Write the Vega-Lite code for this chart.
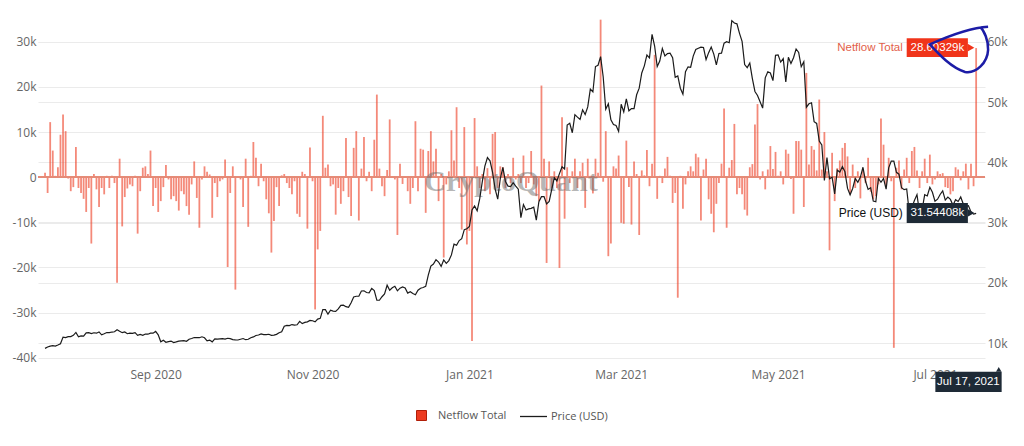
{
"$schema":"https://vega.github.io/schema/vega-lite/v6.json",
"width":947,"height":347,
"autosize":{"type":"none"},
"padding":{"left":38,"top":15,"right":39,"bottom":84},
"background":"#ffffff",
"config":{"view":{"stroke":null},"font":"Open Sans","axis":{"labelFont":"Open Sans","labelFontSize":12,"labelColor":"#666666","gridColor":"#ebebeb","gridWidth":1,"domain":false,"ticks":false,"tickSize":0,"title":null}},
"datasets":{"flow":[
{"d":"2020-07-20","n":1.0,"p":9.16},{"d":"2020-07-21","n":-3.5,"p":9.39},{"d":"2020-07-22","n":12.2,"p":9.54},{"d":"2020-07-23","n":5.9,"p":9.61},{"d":"2020-07-24","n":0.3,"p":9.55},{"d":"2020-07-25","n":2.2,"p":9.71},{"d":"2020-07-26","n":9.4,"p":9.93},{"d":"2020-07-27","n":13.9,"p":11.03},{"d":"2020-07-28","n":10.2,"p":10.94},{"d":"2020-07-29","n":-0.3,"p":11.10},{"d":"2020-07-30","n":-3.1,"p":11.11},{"d":"2020-07-31","n":-2.2,"p":11.32},
{"d":"2020-08-01","n":6.7,"p":11.80},{"d":"2020-08-02","n":-2.4,"p":11.07},{"d":"2020-08-03","n":-3.5,"p":11.23},{"d":"2020-08-04","n":-4.8,"p":11.19},{"d":"2020-08-05","n":-7.7,"p":11.74},{"d":"2020-08-06","n":-2.4,"p":11.76},{"d":"2020-08-07","n":-14.7,"p":11.60},{"d":"2020-08-08","n":0.7,"p":11.75},{"d":"2020-08-09","n":-2.7,"p":11.68},{"d":"2020-08-10","n":-6.6,"p":11.88},{"d":"2020-08-11","n":-2.4,"p":11.41},{"d":"2020-08-12","n":-3.8,"p":11.58},{"d":"2020-08-13","n":0.3,"p":11.78},{"d":"2020-08-14","n":-2.4,"p":11.77},{"d":"2020-08-15","n":0.3,"p":11.87},{"d":"2020-08-16","n":-1.3,"p":11.91},{"d":"2020-08-17","n":-23.4,"p":12.25},{"d":"2020-08-18","n":4.1,"p":11.99},{"d":"2020-08-19","n":-10.9,"p":11.76},{"d":"2020-08-20","n":-4.4,"p":11.88},{"d":"2020-08-21","n":-2.5,"p":11.59},{"d":"2020-08-22","n":-1.6,"p":11.68},{"d":"2020-08-23","n":-2.0,"p":11.66},{"d":"2020-08-24","n":0.3,"p":11.77},{"d":"2020-08-25","n":-12.5,"p":11.32},{"d":"2020-08-26","n":-3.1,"p":11.46},{"d":"2020-08-27","n":2.1,"p":11.32},{"d":"2020-08-28","n":2.4,"p":11.54},{"d":"2020-08-29","n":0.7,"p":11.51},{"d":"2020-08-30","n":5.9,"p":11.68},{"d":"2020-08-31","n":-6.4,"p":11.68},
{"d":"2020-09-01","n":-2.4,"p":11.97},{"d":"2020-09-02","n":-7.7,"p":11.41},{"d":"2020-09-03","n":-5.3,"p":10.25},{"d":"2020-09-04","n":-2.2,"p":10.51},{"d":"2020-09-05","n":2.7,"p":10.17},{"d":"2020-09-06","n":-0.5,"p":10.28},{"d":"2020-09-07","n":-4.9,"p":10.37},{"d":"2020-09-08","n":-4.2,"p":10.13},{"d":"2020-09-09","n":-5.3,"p":10.24},{"d":"2020-09-10","n":-7.4,"p":10.36},{"d":"2020-09-11","n":-3.1,"p":10.40},{"d":"2020-09-12","n":-3.8,"p":10.44},{"d":"2020-09-13","n":-6.4,"p":10.33},{"d":"2020-09-14","n":-8.3,"p":10.68},{"d":"2020-09-15","n":-1.6,"p":10.79},{"d":"2020-09-16","n":3.5,"p":10.96},{"d":"2020-09-17","n":-4.6,"p":10.95},{"d":"2020-09-18","n":-11.2,"p":10.93},{"d":"2020-09-19","n":-0.5,"p":11.08},{"d":"2020-09-20","n":2.4,"p":10.92},{"d":"2020-09-21","n":1.2,"p":10.42},{"d":"2020-09-22","n":0.6,"p":10.54},{"d":"2020-09-23","n":-9.0,"p":10.24},{"d":"2020-09-24","n":-1.3,"p":10.74},{"d":"2020-09-25","n":-4.4,"p":10.69},{"d":"2020-09-26","n":-0.9,"p":10.73},{"d":"2020-09-27","n":-0.5,"p":10.77},{"d":"2020-09-28","n":3.9,"p":10.71},{"d":"2020-09-29","n":-19.9,"p":10.84},{"d":"2020-09-30","n":-3.5,"p":10.78},
{"d":"2020-10-01","n":2.4,"p":10.62},{"d":"2020-10-02","n":-24.9,"p":10.57},{"d":"2020-10-03","n":0.2,"p":10.55},{"d":"2020-10-04","n":-0.5,"p":10.67},{"d":"2020-10-05","n":-6.6,"p":10.79},{"d":"2020-10-06","n":4.1,"p":10.60},{"d":"2020-10-07","n":-11.0,"p":10.67},{"d":"2020-10-08","n":0.3,"p":10.92},{"d":"2020-10-09","n":7.8,"p":11.06},{"d":"2020-10-10","n":4.3,"p":11.30},{"d":"2020-10-11","n":-2.0,"p":11.38},{"d":"2020-10-12","n":3.0,"p":11.56},{"d":"2020-10-13","n":-0.9,"p":11.43},{"d":"2020-10-14","n":-4.9,"p":11.43},{"d":"2020-10-15","n":-8.0,"p":11.50},{"d":"2020-10-16","n":-16.7,"p":11.32},{"d":"2020-10-17","n":-9.7,"p":11.36},{"d":"2020-10-18","n":-2.2,"p":11.48},{"d":"2020-10-19","n":-6.4,"p":11.74},{"d":"2020-10-20","n":0.4,"p":11.92},{"d":"2020-10-21","n":0.7,"p":12.82},{"d":"2020-10-22","n":-1.3,"p":12.97},{"d":"2020-10-23","n":-2.4,"p":12.93},{"d":"2020-10-24","n":-3.8,"p":13.11},{"d":"2020-10-25","n":-0.9,"p":13.03},{"d":"2020-10-26","n":-8.1,"p":13.07},{"d":"2020-10-27","n":-8.8,"p":13.64},{"d":"2020-10-28","n":1.2,"p":13.27},{"d":"2020-10-29","n":0.7,"p":13.46},{"d":"2020-10-30","n":-11.4,"p":13.56},{"d":"2020-10-31","n":6.6,"p":13.80},
{"d":"2020-11-01","n":-0.9,"p":13.74},{"d":"2020-11-02","n":-29.3,"p":13.55},{"d":"2020-11-03","n":-16.0,"p":14.02},{"d":"2020-11-04","n":-11.9,"p":14.14},{"d":"2020-11-05","n":13.6,"p":15.59},{"d":"2020-11-06","n":2.1,"p":15.58},{"d":"2020-11-07","n":2.8,"p":14.83},{"d":"2020-11-08","n":-2.0,"p":15.48},{"d":"2020-11-09","n":-1.6,"p":15.33},{"d":"2020-11-10","n":-8.3,"p":15.30},{"d":"2020-11-11","n":-2.4,"p":15.70},{"d":"2020-11-12","n":-5.9,"p":16.28},{"d":"2020-11-13","n":-3.1,"p":16.32},{"d":"2020-11-14","n":8.7,"p":16.07},{"d":"2020-11-15","n":-4.4,"p":15.96},{"d":"2020-11-16","n":-8.6,"p":16.73},{"d":"2020-11-17","n":6.5,"p":17.68},{"d":"2020-11-18","n":10.2,"p":17.80},{"d":"2020-11-19","n":-9.6,"p":17.82},{"d":"2020-11-20","n":1.9,"p":18.68},{"d":"2020-11-21","n":8.9,"p":18.71},{"d":"2020-11-22","n":-0.9,"p":18.42},{"d":"2020-11-23","n":1.2,"p":18.37},{"d":"2020-11-24","n":-3.1,"p":19.11},{"d":"2020-11-25","n":8.3,"p":18.73},{"d":"2020-11-26","n":18.3,"p":17.15},{"d":"2020-11-27","n":1.9,"p":17.14},{"d":"2020-11-28","n":-2.0,"p":17.72},{"d":"2020-11-29","n":-4.2,"p":18.18},{"d":"2020-11-30","n":1.6,"p":19.63},
{"d":"2020-12-01","n":12.8,"p":18.80},{"d":"2020-12-02","n":0.2,"p":19.20},{"d":"2020-12-03","n":-0.5,"p":19.45},{"d":"2020-12-04","n":-12.8,"p":18.70},{"d":"2020-12-05","n":3.0,"p":19.15},{"d":"2020-12-06","n":-1.5,"p":19.36},{"d":"2020-12-07","n":0.2,"p":19.17},{"d":"2020-12-08","n":-3.1,"p":18.32},{"d":"2020-12-09","n":-5.9,"p":18.55},{"d":"2020-12-10","n":-2.4,"p":18.26},{"d":"2020-12-11","n":12.4,"p":18.06},{"d":"2020-12-12","n":-3.1,"p":18.80},{"d":"2020-12-13","n":6.3,"p":19.14},{"d":"2020-12-14","n":6.1,"p":19.25},{"d":"2020-12-15","n":-7.9,"p":19.44},{"d":"2020-12-16","n":5.8,"p":21.31},{"d":"2020-12-17","n":10.2,"p":22.81},{"d":"2020-12-18","n":3.5,"p":23.14},{"d":"2020-12-19","n":6.3,"p":23.87},{"d":"2020-12-20","n":-5.3,"p":23.48},{"d":"2020-12-21","n":0.7,"p":22.75},{"d":"2020-12-22","n":-17.8,"p":23.82},{"d":"2020-12-23","n":-1.6,"p":23.26},{"d":"2020-12-24","n":1.3,"p":23.72},{"d":"2020-12-25","n":10.4,"p":24.66},{"d":"2020-12-26","n":3.7,"p":26.44},{"d":"2020-12-27","n":15.5,"p":26.25},{"d":"2020-12-28","n":-2.4,"p":27.04},{"d":"2020-12-29","n":-11.6,"p":27.36},{"d":"2020-12-30","n":11.1,"p":28.84},{"d":"2020-12-31","n":-14.9,"p":29.00},
{"d":"2021-01-01","n":-11.9,"p":29.37},{"d":"2021-01-02","n":-36.3,"p":32.13},{"d":"2021-01-03","n":13.1,"p":32.78},{"d":"2021-01-04","n":2.4,"p":31.97},{"d":"2021-01-05","n":-2.4,"p":33.99},{"d":"2021-01-06","n":0.7,"p":36.82},{"d":"2021-01-07","n":-3.1,"p":39.37},{"d":"2021-01-08","n":2.0,"p":40.80},{"d":"2021-01-09","n":-3.8,"p":40.25},{"d":"2021-01-10","n":9.6,"p":38.36},{"d":"2021-01-11","n":10.0,"p":35.57},{"d":"2021-01-12","n":-2.4,"p":33.92},{"d":"2021-01-13","n":2.4,"p":37.32},{"d":"2021-01-14","n":2.2,"p":39.19},{"d":"2021-01-15","n":-2.4,"p":36.83},{"d":"2021-01-16","n":0.7,"p":36.07},{"d":"2021-01-17","n":-1.3,"p":35.99},{"d":"2021-01-18","n":4.3,"p":36.63},{"d":"2021-01-19","n":-0.5,"p":36.07},{"d":"2021-01-20","n":0.7,"p":35.55},{"d":"2021-01-21","n":-1.3,"p":30.83},{"d":"2021-01-22","n":4.8,"p":33.00},{"d":"2021-01-23","n":-2.4,"p":32.10},{"d":"2021-01-24","n":-1.3,"p":32.29},{"d":"2021-01-25","n":5.8,"p":32.37},{"d":"2021-01-26","n":-1.6,"p":32.57},{"d":"2021-01-27","n":-4.2,"p":30.43},{"d":"2021-01-28","n":-5.3,"p":33.47},{"d":"2021-01-29","n":20.3,"p":34.32},{"d":"2021-01-30","n":4.1,"p":34.32},{"d":"2021-01-31","n":-19.0,"p":33.11},
{"d":"2021-02-01","n":3.5,"p":33.54},{"d":"2021-02-02","n":-2.4,"p":35.51},{"d":"2021-02-03","n":1.3,"p":37.47},{"d":"2021-02-04","n":-2.4,"p":36.93},{"d":"2021-02-05","n":-20.1,"p":38.14},{"d":"2021-02-06","n":13.3,"p":39.27},{"d":"2021-02-07","n":-9.2,"p":38.90},{"d":"2021-02-08","n":2.2,"p":46.20},{"d":"2021-02-09","n":-1.3,"p":46.48},{"d":"2021-02-10","n":1.3,"p":44.92},{"d":"2021-02-11","n":4.1,"p":47.91},{"d":"2021-02-12","n":-2.4,"p":47.50},{"d":"2021-02-13","n":1.3,"p":47.11},{"d":"2021-02-14","n":3.2,"p":48.72},{"d":"2021-02-15","n":-6.8,"p":47.94},{"d":"2021-02-16","n":4.1,"p":49.20},{"d":"2021-02-17","n":0.3,"p":52.15},{"d":"2021-02-18","n":-3.6,"p":51.68},{"d":"2021-02-19","n":4.1,"p":55.89},{"d":"2021-02-20","n":1.0,"p":56.10},{"d":"2021-02-21","n":34.9,"p":57.54},{"d":"2021-02-22","n":-1.0,"p":54.21},{"d":"2021-02-23","n":10.2,"p":48.82},{"d":"2021-02-24","n":-17.5,"p":49.71},{"d":"2021-02-25","n":-14.7,"p":47.05},{"d":"2021-02-26","n":2.4,"p":46.28},{"d":"2021-02-27","n":1.9,"p":46.11},{"d":"2021-02-28","n":4.8,"p":45.14},
{"d":"2021-03-01","n":-10.1,"p":49.63},{"d":"2021-03-02","n":-10.3,"p":48.38},{"d":"2021-03-03","n":8.1,"p":50.54},{"d":"2021-03-04","n":-2.2,"p":48.56},{"d":"2021-03-05","n":-10.5,"p":48.93},{"d":"2021-03-06","n":3.5,"p":48.91},{"d":"2021-03-07","n":0.7,"p":51.21},{"d":"2021-03-08","n":-12.8,"p":52.30},{"d":"2021-03-09","n":1.5,"p":54.82},{"d":"2021-03-10","n":0.4,"p":56.01},{"d":"2021-03-11","n":6.0,"p":57.81},{"d":"2021-03-12","n":-2.0,"p":57.33},{"d":"2021-03-13","n":3.0,"p":61.24},{"d":"2021-03-14","n":27.1,"p":59.30},{"d":"2021-03-15","n":-4.8,"p":55.89},{"d":"2021-03-16","n":0.3,"p":56.80},{"d":"2021-03-17","n":-1.3,"p":58.87},{"d":"2021-03-18","n":1.9,"p":57.65},{"d":"2021-03-19","n":4.5,"p":58.03},{"d":"2021-03-20","n":0.3,"p":58.10},{"d":"2021-03-21","n":-5.7,"p":57.35},{"d":"2021-03-22","n":-3.5,"p":54.11},{"d":"2021-03-23","n":-26.7,"p":54.34},{"d":"2021-03-24","n":0.3,"p":52.30},{"d":"2021-03-25","n":-7.0,"p":51.32},{"d":"2021-03-26","n":-1.6,"p":55.03},{"d":"2021-03-27","n":1.3,"p":55.85},{"d":"2021-03-28","n":2.4,"p":55.78},{"d":"2021-03-29","n":1.3,"p":57.63},{"d":"2021-03-30","n":5.2,"p":58.73},{"d":"2021-03-31","n":4.4,"p":58.92},
{"d":"2021-04-01","n":-9.6,"p":59.10},{"d":"2021-04-02","n":1.7,"p":59.05},{"d":"2021-04-03","n":4.1,"p":57.05},{"d":"2021-04-04","n":-4.9,"p":58.20},{"d":"2021-04-05","n":-8.1,"p":59.12},{"d":"2021-04-06","n":-12.2,"p":57.95},{"d":"2021-04-07","n":-5.9,"p":56.17},{"d":"2021-04-08","n":-1.3,"p":58.06},{"d":"2021-04-09","n":3.0,"p":58.11},{"d":"2021-04-10","n":15.2,"p":59.77},{"d":"2021-04-11","n":-11.2,"p":60.00},{"d":"2021-04-12","n":2.1,"p":59.84},{"d":"2021-04-13","n":3.8,"p":63.50},{"d":"2021-04-14","n":11.8,"p":63.11},{"d":"2021-04-15","n":-3.8,"p":62.98},{"d":"2021-04-16","n":-2.4,"p":61.40},{"d":"2021-04-17","n":-3.8,"p":60.06},{"d":"2021-04-18","n":-7.2,"p":56.22},{"d":"2021-04-19","n":-8.5,"p":55.72},{"d":"2021-04-20","n":2.2,"p":56.47},{"d":"2021-04-21","n":2.9,"p":53.90},{"d":"2021-04-22","n":11.7,"p":51.76},{"d":"2021-04-23","n":16.2,"p":51.09},{"d":"2021-04-24","n":-0.5,"p":50.05},{"d":"2021-04-25","n":1.3,"p":49.00},{"d":"2021-04-26","n":-2.7,"p":54.02},{"d":"2021-04-27","n":1.7,"p":55.03},{"d":"2021-04-28","n":6.9,"p":54.82},{"d":"2021-04-29","n":1.8,"p":53.56},{"d":"2021-04-30","n":5.6,"p":57.75},
{"d":"2021-05-01","n":0.3,"p":57.83},{"d":"2021-05-02","n":1.3,"p":56.63},{"d":"2021-05-03","n":-1.6,"p":57.21},{"d":"2021-05-04","n":6.1,"p":53.33},{"d":"2021-05-05","n":5.2,"p":57.42},{"d":"2021-05-06","n":-0.4,"p":56.40},{"d":"2021-05-07","n":-8.1,"p":57.36},{"d":"2021-05-08","n":8.0,"p":58.80},{"d":"2021-05-09","n":8.0,"p":58.23},{"d":"2021-05-10","n":6.1,"p":55.86},{"d":"2021-05-11","n":-6.6,"p":56.70},{"d":"2021-05-12","n":23.1,"p":49.15},{"d":"2021-05-13","n":2.8,"p":49.72},{"d":"2021-05-14","n":6.9,"p":49.88},{"d":"2021-05-15","n":6.1,"p":46.76},{"d":"2021-05-16","n":1.5,"p":46.46},{"d":"2021-05-17","n":17.2,"p":43.54},{"d":"2021-05-18","n":1.7,"p":42.91},{"d":"2021-05-19","n":10.0,"p":37.00},{"d":"2021-05-20","n":1.3,"p":40.78},{"d":"2021-05-21","n":-16.2,"p":37.30},{"d":"2021-05-22","n":5.4,"p":37.54},{"d":"2021-05-23","n":-5.3,"p":34.77},{"d":"2021-05-24","n":2.0,"p":38.71},{"d":"2021-05-25","n":3.7,"p":38.40},{"d":"2021-05-26","n":6.5,"p":39.29},{"d":"2021-05-27","n":7.6,"p":38.44},{"d":"2021-05-28","n":4.6,"p":35.69},{"d":"2021-05-29","n":-3.8,"p":34.62},{"d":"2021-05-30","n":2.8,"p":35.68},{"d":"2021-05-31","n":-2.4,"p":37.33},
{"d":"2021-06-01","n":1.3,"p":36.70},{"d":"2021-06-02","n":-4.7,"p":37.57},{"d":"2021-06-03","n":1.7,"p":39.19},{"d":"2021-06-04","n":-1.3,"p":36.87},{"d":"2021-06-05","n":4.3,"p":35.52},{"d":"2021-06-06","n":-3.2,"p":35.80},{"d":"2021-06-07","n":-4.9,"p":33.59},{"d":"2021-06-08","n":-4.2,"p":33.47},{"d":"2021-06-09","n":-1.6,"p":37.35},{"d":"2021-06-10","n":13.0,"p":36.70},{"d":"2021-06-11","n":7.2,"p":37.33},{"d":"2021-06-12","n":-2.0,"p":35.55},{"d":"2021-06-13","n":4.3,"p":39.10},{"d":"2021-06-14","n":-0.9,"p":40.22},{"d":"2021-06-15","n":-37.8,"p":40.22},{"d":"2021-06-16","n":2.1,"p":38.35},{"d":"2021-06-17","n":3.7,"p":38.05},{"d":"2021-06-18","n":-2.7,"p":35.79},{"d":"2021-06-19","n":1.7,"p":35.48},{"d":"2021-06-20","n":4.3,"p":35.60},{"d":"2021-06-21","n":-1.3,"p":31.68},{"d":"2021-06-22","n":5.8,"p":32.51},{"d":"2021-06-23","n":6.7,"p":33.69},{"d":"2021-06-24","n":1.5,"p":34.66},{"d":"2021-06-25","n":-2.4,"p":31.64},{"d":"2021-06-26","n":1.3,"p":32.16},{"d":"2021-06-27","n":4.1,"p":34.64},{"d":"2021-06-28","n":-1.3,"p":34.43},{"d":"2021-06-29","n":5.0,"p":35.87},{"d":"2021-06-30","n":-1.6,"p":35.04},
{"d":"2021-07-01","n":-0.5,"p":33.57},{"d":"2021-07-02","n":1.3,"p":33.90},{"d":"2021-07-03","n":0.7,"p":34.67},{"d":"2021-07-04","n":0.9,"p":35.29},{"d":"2021-07-05","n":-2.2,"p":33.75},{"d":"2021-07-06","n":-2.4,"p":34.24},{"d":"2021-07-07","n":-3.8,"p":33.86},{"d":"2021-07-08","n":-3.1,"p":32.88},{"d":"2021-07-09","n":2.2,"p":33.82},{"d":"2021-07-10","n":1.7,"p":33.52},{"d":"2021-07-11","n":-0.7,"p":34.26},{"d":"2021-07-12","n":1.3,"p":33.09},{"d":"2021-07-13","n":3.0,"p":32.73},{"d":"2021-07-14","n":-2.7,"p":32.82},{"d":"2021-07-15","n":3.0,"p":31.78},{"d":"2021-07-16","n":-2.0,"p":31.42},{"d":"2021-07-17","n":28.60329,"p":31.54408}
]},
"data":{"name":"flow"},
"layer":[
 {"layer":[
  {"mark":{"type":"bar","size":1.8,"opacity":0.6},
   "encoding":{
    "x":{"field":"d","type":"temporal","scale":{"type":"utc","nice":false,"domain":[{"year":2020,"month":7,"date":19,"hours":5,"utc":true},{"year":2021,"month":7,"date":18,"hours":12,"utc":true}]},
         "axis":{"title":null,"values":[{"year":2020,"month":9,"date":1,"utc":true},{"year":2020,"month":11,"date":1,"utc":true},{"year":2021,"month":1,"date":1,"utc":true},{"year":2021,"month":3,"date":1,"utc":true},{"year":2021,"month":5,"date":1,"utc":true},{"year":2021,"month":7,"date":1,"utc":true}],"format":"%b %Y","labelPadding":7,"grid":false,"zindex":0,"labelFlush":false,"labelOverlap":false,"domain":false,"ticks":false}},
    "y":{"field":"n","type":"quantitative","scale":{"domain":[-40.94,35.93],"nice":false,"zero":false},
         "axis":{"title":null,"orient":"left","values":[-40,-30,-20,-10,0,10,20,30],"labelExpr":"datum.value == 0 ? '0' : datum.value + 'k'","grid":true,"labelPadding":2,"domain":false,"ticks":false}},
    "y2":{"datum":0},
    "fill":{"datum":"Netflow Total","type":"nominal","scale":{"domain":["Netflow Total"],"range":["#ec3a20"]},
      "legend":{"orient":"none","legendX":378,"legendY":395,"title":null,"symbolType":"square","symbolSize":100,"symbolOpacity":1,"symbolStrokeColor":"#b01e08","symbolStrokeWidth":1,"labelFont":"Open Sans","labelFontSize":11,"labelColor":"#555555","labelOffset":11}}
   }},
  {"mark":{"type":"rule","color":"#e48a77","strokeWidth":1},
   "encoding":{"y":{"datum":0,"type":"quantitative","scale":{"domain":[-40.94,35.93],"nice":false,"zero":false}}}},
  {"data":{"values":[{"d":"2021-01-17T03:30:00Z","v":-1.06,"t":"CryptoQuant"}]},
   "mark":{"type":"text","font":"Liberation Serif","fontSize":30,"fontWeight":"bold","color":"#6f6f6f","opacity":0.5,"align":"center","baseline":"middle"},
   "encoding":{"x":{"field":"d","type":"temporal","scale":{"type":"utc","nice":false,"domain":[{"year":2020,"month":7,"date":19,"hours":5,"utc":true},{"year":2021,"month":7,"date":18,"hours":12,"utc":true}]}},
     "y":{"field":"v","type":"quantitative","scale":{"domain":[-40.94,35.93],"nice":false,"zero":false}},
     "text":{"field":"t"}}}
 ]},
 {"mark":{"type":"line","strokeWidth":1.2},
  "encoding":{
   "x":{"field":"d","type":"temporal","scale":{"type":"utc","nice":false,"domain":[{"year":2020,"month":7,"date":19,"hours":5,"utc":true},{"year":2021,"month":7,"date":18,"hours":12,"utc":true}]}},
   "y":{"field":"p","type":"quantitative","scale":{"domain":[6.9,64.44],"nice":false,"zero":false},
        "axis":{"title":null,"orient":"right","values":[10,20,30,40,50,60],"labelExpr":"datum.value + 'k'","grid":true,"labelPadding":2,"domain":false,"ticks":false}},
   "stroke":{"datum":"Price (USD)","type":"nominal","scale":{"domain":["Price (USD)"],"range":["#1b1b1b"]},
      "legend":{"orient":"none","legendX":481,"legendY":387,"title":null,"symbolType":"stroke","symbolSize":729,"symbolStrokeWidth":1.3,"symbolOpacity":1,"labelFont":"Open Sans","labelFontSize":11,"labelColor":"#555555","labelOffset":3}}}},
 {"layer":[
  {"data":{"values":[{"x1":"2021-06-20T00:00:00Z","x2":"2021-07-13T19:00:00Z","y1":26.6,"y2":30.8}]},
   "mark":{"type":"rect","color":"#f0341a"},
   "encoding":{"x":{"field":"x1","type":"temporal","scale":{"type":"utc","nice":false,"domain":[{"year":2020,"month":7,"date":19,"hours":5,"utc":true},{"year":2021,"month":7,"date":18,"hours":12,"utc":true}]}},"x2":{"field":"x2"},
     "y":{"field":"y1","type":"quantitative","scale":{"domain":[-40.94,35.93],"nice":false,"zero":false},"axis":null},"y2":{"field":"y2"}}},
  {"data":{"values":[{"x":"2021-07-15T00:00:00Z","y":28.7}]},
   "mark":{"type":"point","shape":"triangle-right","filled":true,"size":60,"color":"#f0341a","opacity":1},
   "encoding":{"x":{"field":"x","type":"temporal","scale":{"type":"utc","nice":false,"domain":[{"year":2020,"month":7,"date":19,"hours":5,"utc":true},{"year":2021,"month":7,"date":18,"hours":12,"utc":true}]}},
     "y":{"field":"y","type":"quantitative","scale":{"domain":[-40.94,35.93],"nice":false,"zero":false},"axis":null}}},
  {"data":{"values":[{"x":"2021-07-01T22:00:00Z","y":28.7,"t":"28.60329k"}]},
   "mark":{"type":"text","font":"Liberation Sans","fontSize":11.5,"color":"#ffffff","align":"center","baseline":"middle"},
   "encoding":{"x":{"field":"x","type":"temporal","scale":{"type":"utc","nice":false,"domain":[{"year":2020,"month":7,"date":19,"hours":5,"utc":true},{"year":2021,"month":7,"date":18,"hours":12,"utc":true}]}},
     "y":{"field":"y","type":"quantitative","scale":{"domain":[-40.94,35.93],"nice":false,"zero":false},"axis":null},"text":{"field":"t"}}},
  {"data":{"values":[{"x":"2021-06-18T12:00:00Z","y":28.7,"t":"Netflow Total"}]},
   "mark":{"type":"text","font":"Liberation Sans","fontSize":11.5,"color":"#e2604a","align":"right","baseline":"middle"},
   "encoding":{"x":{"field":"x","type":"temporal","scale":{"type":"utc","nice":false,"domain":[{"year":2020,"month":7,"date":19,"hours":5,"utc":true},{"year":2021,"month":7,"date":18,"hours":12,"utc":true}]}},
     "y":{"field":"y","type":"quantitative","scale":{"domain":[-40.94,35.93],"nice":false,"zero":false},"axis":null},"text":{"field":"t"}}},
  {"data":{"values":[{"x1":"2021-06-20T00:00:00Z","x2":"2021-07-13T19:00:00Z","y1":-10.15,"y2":-5.72}]},
   "mark":{"type":"rect","color":"#1e2a36"},
   "encoding":{"x":{"field":"x1","type":"temporal","scale":{"type":"utc","nice":false,"domain":[{"year":2020,"month":7,"date":19,"hours":5,"utc":true},{"year":2021,"month":7,"date":18,"hours":12,"utc":true}]}},"x2":{"field":"x2"},
     "y":{"field":"y1","type":"quantitative","scale":{"domain":[-40.94,35.93],"nice":false,"zero":false},"axis":null},"y2":{"field":"y2"}}},
  {"data":{"values":[{"x":"2021-07-15T00:00:00Z","y":-7.93}]},
   "mark":{"type":"point","shape":"triangle-right","filled":true,"size":60,"color":"#1e2a36","opacity":1},
   "encoding":{"x":{"field":"x","type":"temporal","scale":{"type":"utc","nice":false,"domain":[{"year":2020,"month":7,"date":19,"hours":5,"utc":true},{"year":2021,"month":7,"date":18,"hours":12,"utc":true}]}},
     "y":{"field":"y","type":"quantitative","scale":{"domain":[-40.94,35.93],"nice":false,"zero":false},"axis":null}}},
  {"data":{"values":[{"x":"2021-07-01T22:00:00Z","y":-7.93,"t":"31.54408k"}]},
   "mark":{"type":"text","font":"Liberation Sans","fontSize":11.5,"color":"#ffffff","align":"center","baseline":"middle"},
   "encoding":{"x":{"field":"x","type":"temporal","scale":{"type":"utc","nice":false,"domain":[{"year":2020,"month":7,"date":19,"hours":5,"utc":true},{"year":2021,"month":7,"date":18,"hours":12,"utc":true}]}},
     "y":{"field":"y","type":"quantitative","scale":{"domain":[-40.94,35.93],"nice":false,"zero":false},"axis":null},"text":{"field":"t"}}},
  {"data":{"values":[{"x":"2021-06-18T12:00:00Z","y":-7.93,"t":"Price (USD)"}]},
   "mark":{"type":"text","font":"Liberation Sans","fontSize":12,"color":"#111111","align":"right","baseline":"middle"},
   "encoding":{"x":{"field":"x","type":"temporal","scale":{"type":"utc","nice":false,"domain":[{"year":2020,"month":7,"date":19,"hours":5,"utc":true},{"year":2021,"month":7,"date":18,"hours":12,"utc":true}]}},
     "y":{"field":"y","type":"quantitative","scale":{"domain":[-40.94,35.93],"nice":false,"zero":false},"axis":null},"text":{"field":"t"}}},
  {"data":{"values":[{"x1":"2021-07-01T03:30:00Z","x2":"2021-07-26T22:00:00Z","y1":-47.6,"y2":-43.1}]},
   "mark":{"type":"rect","color":"#1e2a36"},
   "encoding":{"x":{"field":"x1","type":"temporal","scale":{"type":"utc","nice":false,"domain":[{"year":2020,"month":7,"date":19,"hours":5,"utc":true},{"year":2021,"month":7,"date":18,"hours":12,"utc":true}]}},"x2":{"field":"x2"},
     "y":{"field":"y1","type":"quantitative","scale":{"domain":[-40.94,35.93],"nice":false,"zero":false},"axis":null},"y2":{"field":"y2"}}},
  {"data":{"values":[{"x":"2021-07-25T19:00:00Z","y":-42.6}]},
   "mark":{"type":"point","shape":"triangle-up","filled":true,"size":30,"color":"#1e2a36","opacity":1},
   "encoding":{"x":{"field":"x","type":"temporal","scale":{"type":"utc","nice":false,"domain":[{"year":2020,"month":7,"date":19,"hours":5,"utc":true},{"year":2021,"month":7,"date":18,"hours":12,"utc":true}]}},
     "y":{"field":"y","type":"quantitative","scale":{"domain":[-40.94,35.93],"nice":false,"zero":false},"axis":null}}},
  {"data":{"values":[{"x":"2021-07-14T00:00:00Z","y":-45.37,"t":"Jul 17, 2021"}]},
   "mark":{"type":"text","font":"Liberation Sans","fontSize":11.5,"color":"#ffffff","align":"center","baseline":"middle"},
   "encoding":{"x":{"field":"x","type":"temporal","scale":{"type":"utc","nice":false,"domain":[{"year":2020,"month":7,"date":19,"hours":5,"utc":true},{"year":2021,"month":7,"date":18,"hours":12,"utc":true}]}},
     "y":{"field":"y","type":"quantitative","scale":{"domain":[-40.94,35.93],"nice":false,"zero":false},"axis":null},"text":{"field":"t"}}},
  {"data":{"values":[{"x":"2021-07-09T14:00:00Z","y":28.2}]},
   "mark":{"type":"point","shape":"M 0.97 -0.72 C 0.6 -0.7 0.0 -0.55 -0.85 -0.17 C -0.6 0.1 -0.2 0.55 0.25 0.69 C 0.6 0.75 0.95 0.4 0.97 0 C 0.98 -0.3 0.85 -0.6 0.72 -0.72","filled":false,"size":4096,"stroke":"#1c1ca6","strokeWidth":2.5,"opacity":1},
   "encoding":{"x":{"field":"x","type":"temporal","scale":{"type":"utc","nice":false,"domain":[{"year":2020,"month":7,"date":19,"hours":5,"utc":true},{"year":2021,"month":7,"date":18,"hours":12,"utc":true}]}},
     "y":{"field":"y","type":"quantitative","scale":{"domain":[-40.94,35.93],"nice":false,"zero":false},"axis":null}}}
  ]}
],
"resolve":{"scale":{"y":"independent"}}
}
